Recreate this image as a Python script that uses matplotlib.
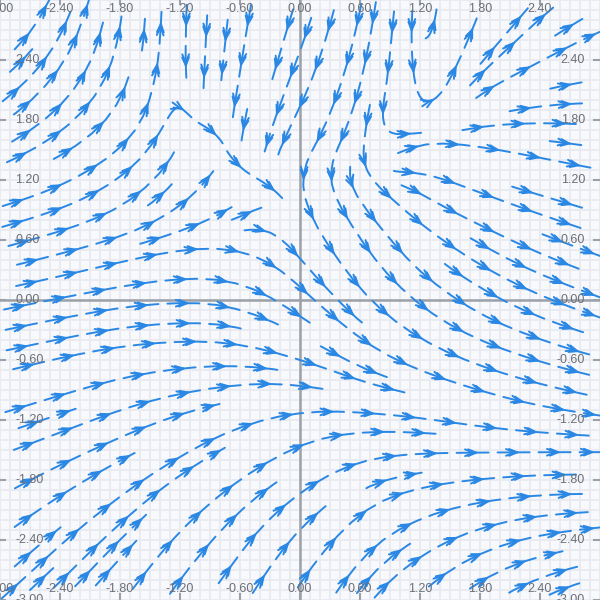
import numpy as np
import matplotlib
matplotlib.use("Agg")
import matplotlib.pyplot as plt
from matplotlib.collections import LineCollection

# flow direction, degrees (0 = right, 90 = up)
# columns are x = -3.0 .. 3.0 step 0.5, rows are y = 3.0 (top) .. -3.0 (bottom)
grid_x = [-3.0, -2.5, -2.0, -1.5, -1.0, -0.5, 0.0, 0.5, 1.0, 1.5, 2.0, 2.5, 3.0]
grid_y = [3.0, 2.5, 2.0, 1.5, 1.0, 0.5, 0.0, -0.5, -1.0, -1.5, -2.0, -2.5, -3.0]
angle_rows = [
    [50, 65, 80, 88, -92, -100, -108, -103, -95, 85, 65, 42, 30],
    [38, 57, 72, 86, -92, -100, -110, -105, -93, 75, 45, 30, 20],
    [38, 46, 55, 74, -92, -102, -115, -108, -95, 55, 18, 7, 0],
    [27, 30, 35, 52, 75, -100, -122, -112, 30, -12, -10, -10, -8],
    [17, 20, 28, 40, 40, 40, -75, -58, -40, -25, -20, -17, -15],
    [15, 15, 15, 13, 3, -17, -52, -58, -50, -35, -28, -22, -20],
    [12, 11, 10, 5, -2, -22, -40, -48, -42, -35, -28, -22, -20],
    [12, 12, 10, 5, 0, -10, -22, -33, -30, -25, -20, -18, -15],
    [16, 17, 18, 15, 12, 10, 0, -8, -10, -15, -15, -12, -12],
    [20, 22, 25, 27, 30, 28, 25, 13, 3, 0, 0, 0, 0],
    [30, 33, 36, 40, 40, 40, 38, 37, 20, 12, 8, 3, 0],
    [40, 42, 45, 50, 50, 54, 52, 50, 35, 28, 20, 12, 10],
    [42, 45, 50, 55, 55, 58, 58, 55, 45, 42, 32, 25, 20],
]

tick_values = [-3.0, -2.4, -1.8, -1.2, -0.6, 0.0, 0.6, 1.2, 1.8, 2.4]
tick_labels = ["-3.00", "-2.40", "-1.80", "-1.20", "-0.60", "0.00", "0.60", "1.20", "1.80", "2.40"]

arrow_color = "#2a88e4"
label_color = "#6b6f76"

# streamplot wants rows going up in y
ang = np.radians(np.array(angle_rows, dtype=float))[::-1]
u = np.cos(ang)
v = np.sin(ang)
ys = np.array(grid_y[::-1])
xs = np.array(grid_x)

# let streamplot trace the lines on a scratch axes, we only keep the geometry
scratch_fig, scratch_ax = plt.subplots(figsize=(6, 6), dpi=100)
sp = scratch_ax.streamplot(xs, ys, u, v, density=1.0, arrowstyle="-")
segs = sp.lines.get_segments()
plt.close(scratch_fig)

# glue pieces back into whole streamlines (works for either kind of output)
paths = []
cur = None
for seg in segs:
    seg = np.asarray(seg)
    if len(seg) < 2:
        continue
    if cur is not None and np.allclose(seg[0], cur[-1]):
        cur.extend(seg[1:])
    else:
        cur = list(seg)
        paths.append(cur)


def point_at(s, arc, pts):
    return np.array([np.interp(s, arc, pts[:, 0]), np.interp(s, arc, pts[:, 1])])


dash = 0.32
period = 0.41
barb = 0.09
spread = np.radians(22)

lines = []
for p in paths:
    p = np.array(p)
    d = np.hypot(*np.diff(p, axis=0).T)
    arc = np.concatenate([[0], np.cumsum(d)])
    total = arc[-1]
    a = (total % period) / 2
    while a < total:
        b = min(a + dash, total)
        if b - a < 0.16:
            break
        ss = np.linspace(a, b, 14)
        lines.append(np.column_stack([np.interp(ss, arc, p[:, 0]), np.interp(ss, arc, p[:, 1])]))
        # double chevron a bit ahead of the middle
        for off in (0.0, 0.03):
            st = a + 0.62 * (b - a) - off
            tip = point_at(st, arc, p)
            t = point_at(st + 0.01, arc, p) - point_at(st - 0.01, arc, p)
            n = np.hypot(*t)
            if n == 0:
                continue
            back = -t / n
            for sgn in (1, -1):
                c, s_ = np.cos(sgn * spread), np.sin(sgn * spread)
                r = np.array([back[0] * c - back[1] * s_, back[0] * s_ + back[1] * c])
                lines.append(np.array([tip, tip + barb * r]))
        a += period

fig = plt.figure(figsize=(6, 6), dpi=100)
ax = fig.add_axes([0, 0, 1, 1])
ax.set_facecolor("#f8f9fc")

ax.add_collection(LineCollection(lines, colors=arrow_color, linewidths=1.4,
                                 capstyle="round", joinstyle="round", zorder=3))

# background grid every 0.1
fine = np.round(np.arange(-3.0, 3.001, 0.1), 2)
for g in fine:
    ax.axvline(g, color="#e8eaf0", lw=1.3, zorder=0)
    ax.axhline(g, color="#e8eaf0", lw=1.3, zorder=0)
ax.axvline(0, color="#9ca1a9", lw=1.8, zorder=1)
ax.axhline(0, color="#9ca1a9", lw=1.8, zorder=1)

# ticks and labels on all four edges
for t, lab in zip(tick_values, tick_labels):
    ax.plot([t, t], [3.0, 2.96], color="#9ca1a9", lw=1.5, zorder=2, clip_on=False)
    ax.plot([t, t], [-3.0, -2.94], color="#9ca1a9", lw=1.5, zorder=2, clip_on=False)
    ax.plot([-3.0, -2.95], [t, t], color="#9ca1a9", lw=1.5, zorder=2, clip_on=False)
    ax.plot([2.94, 3.0], [t, t], color="#9ca1a9", lw=1.5, zorder=2, clip_on=False)
    ax.text(t, 2.91, lab, ha="center", va="center", fontsize=9, color=label_color,
            family="Liberation Sans", zorder=4)
    ax.text(t, -2.89, lab, ha="center", va="center", fontsize=9, color=label_color,
            family="Liberation Sans", zorder=4)
    ax.text(-2.85, t, lab, ha="left", va="center", fontsize=9, color=label_color,
            family="Liberation Sans", zorder=4)
    ax.text(2.85, t, lab, ha="right", va="center", fontsize=9, color=label_color,
            family="Liberation Sans", zorder=4)

ax.set_xlim(-3, 3)
ax.set_ylim(-3, 3)
ax.set_xticks([])
ax.set_yticks([])
for spine in ax.spines.values():
    spine.set_visible(False)

fig.savefig("out.png", dpi=100)
